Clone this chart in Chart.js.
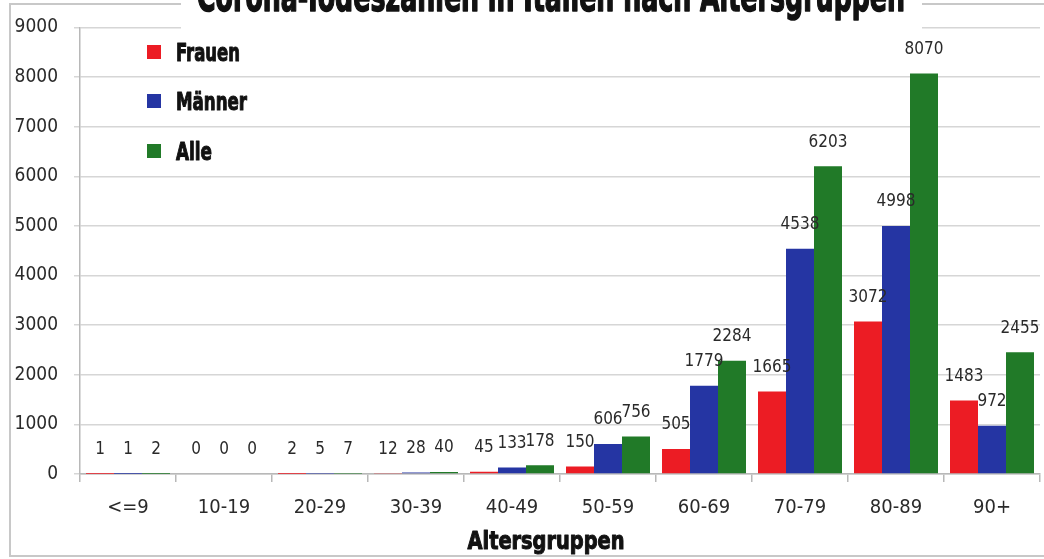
<!DOCTYPE html>
<html>
<head>
<meta charset="utf-8">
<script src="https://cdn.jsdelivr.net/npm/chart.js@4.4.1/dist/chart.umd.min.js"></script>
<style>
  body { margin: 0; background: #fff; }
  canvas { display: block; }
</style>
</head>
<body>
<canvas id="deathsChart" width="1044" height="559"></canvas>
<script>
// Corona-Todeszahlen nach Altersgruppen
const ageGroups = ['<=9', '10-19', '20-29', '30-39', '40-49', '50-59', '60-69', '70-79', '80-89', '90+'];
const frauen = [1, 0, 2, 12, 45, 150, 505, 1665, 3072, 1483];
const maenner = [1, 0, 5, 28, 133, 606, 1779, 4538, 4998, 972];
const alle = [2, 0, 7, 40, 178, 756, 2284, 6203, 8070, 2455];
const yTicks = [0, 1000, 2000, 3000, 4000, 5000, 6000, 7000, 8000, 9000];

const titleText = 'Corona-Todeszahlen in Italien nach Altersgruppen';
const xTitleText = 'Altersgruppen';
const labelFont = "'DejaVu Sans Condensed', 'DejaVu Sans', sans-serif";
const heavyFont = "bold 42px 'DejaVu Sans Condensed', 'DejaVu Sans', sans-serif";

// draw squeezed heavy text to a given width (no Impact font available)
function drawSqueezed(ctx, text, x, y, width, font, align, stroke) {
    ctx.save();
    ctx.font = font;
    ctx.fillStyle = '#111';
    ctx.strokeStyle = '#111';
    ctx.textBaseline = 'alphabetic';
    const w = ctx.measureText(text).width;
    const sx = width / w;
    let left = x;
    if (align === 'center') left = x - width / 2;
    ctx.translate(left, y);
    ctx.scale(sx, 1);
    ctx.textAlign = 'left';
    if (stroke) {
        ctx.lineWidth = stroke;
        ctx.lineJoin = 'round';
        ctx.strokeText(text, 0, 0);
    }
    ctx.fillText(text, 0, 0);
    ctx.restore();
}

const framePlugin = {
    id: 'frame',
    beforeDraw(chart) {
        const ctx = chart.ctx;
        ctx.save();
        ctx.fillStyle = '#fff';
        ctx.fillRect(0, 0, chart.width, chart.height);
        ctx.strokeStyle = '#c8c8c8';
        ctx.lineWidth = 2;
        ctx.strokeRect(10, 4, chart.width, 552);
        ctx.restore();
    },
    afterDatasetDraw(chart, args) {
        // value labels above the bars
        const ctx = chart.ctx;
        const meta = args.meta;
        const data = chart.data.datasets[args.index].data;
        ctx.save();
        ctx.font = '17px ' + labelFont;
        ctx.fillStyle = '#2a2a2a';
        ctx.textAlign = 'center';
        ctx.textBaseline = 'middle';
        meta.data.forEach((bar, i) => {
            ctx.fillText(String(data[i]), bar.x, bar.y - 24);
        });
        ctx.restore();
    },
    afterDraw(chart) {
        const ctx = chart.ctx;
        // legend
        const ys = [52, 101, 151];
        const widths = [64, 71, 36];
        chart.data.datasets.forEach((ds, i) => {
            ctx.fillStyle = ds.backgroundColor;
            ctx.fillRect(147, ys[i] - 7, 14, 14);
            drawSqueezed(ctx, ds.label, 176, ys[i] + 9, widths[i], 'bold 25px ' + labelFont, 'left', 1);
        });
        // title box over the frame
        ctx.fillStyle = '#fff';
        ctx.fillRect(181, 0, 741, 30);
        drawSqueezed(ctx, titleText, 197, 11, 708, heavyFont, 'left', 1.5);
        // axis title
        drawSqueezed(ctx, xTitleText, 546, 549, 157, 'bold 24px ' + labelFont, 'center', 1);
    }
};

const ctx = document.getElementById('deathsChart').getContext('2d');
new Chart(ctx, {
    type: 'bar',
    data: {
        labels: ageGroups,
        datasets: [
            { label: 'Frauen', data: frauen, backgroundColor: '#ec1c24' },
            { label: 'Männer', data: maenner, backgroundColor: '#2535a3' },
            { label: 'Alle', data: alle, backgroundColor: '#217a28' }
        ]
    },
    options: {
        responsive: false,
        animation: false,
        datasets: {
            bar: { categoryPercentage: 0.875, barPercentage: 1, borderWidth: 0 }
        },
        layout: { padding: { top: 27, right: 4, left: 0, bottom: 0 } },
        plugins: {
            legend: { display: false },
            title: { display: false },
            tooltip: { enabled: false }
        },
        scales: {
            x: {
                grid: { offset: true, drawOnChartArea: false, tickLength: 8, color: '#b8b8b8', lineWidth: 1.5 },
                border: { color: '#b8b8b8', width: 1.5 },
                ticks: { color: '#2a2a2a', font: { size: 20, family: labelFont }, padding: 14, maxRotation: 0 },
                afterFit(scale) { scale.height = 85; }
            },
            y: {
                min: 0,
                max: 9000,
                afterBuildTicks(scale) { scale.ticks = yTicks.map(v => ({ value: v })); },
                grid: { color: '#d6d6d6', lineWidth: 1.5, tickLength: 6 },
                border: { color: '#b8b8b8', width: 1.5 },
                ticks: {
                    color: '#2a2a2a',
                    font: { size: 19, family: labelFont },
                    padding: 16,
                    callback: value => String(value)
                },
                afterFit(scale) { scale.width = 80; }
            }
        }
    },
    plugins: [framePlugin]
});
</script>
</body>
</html>
